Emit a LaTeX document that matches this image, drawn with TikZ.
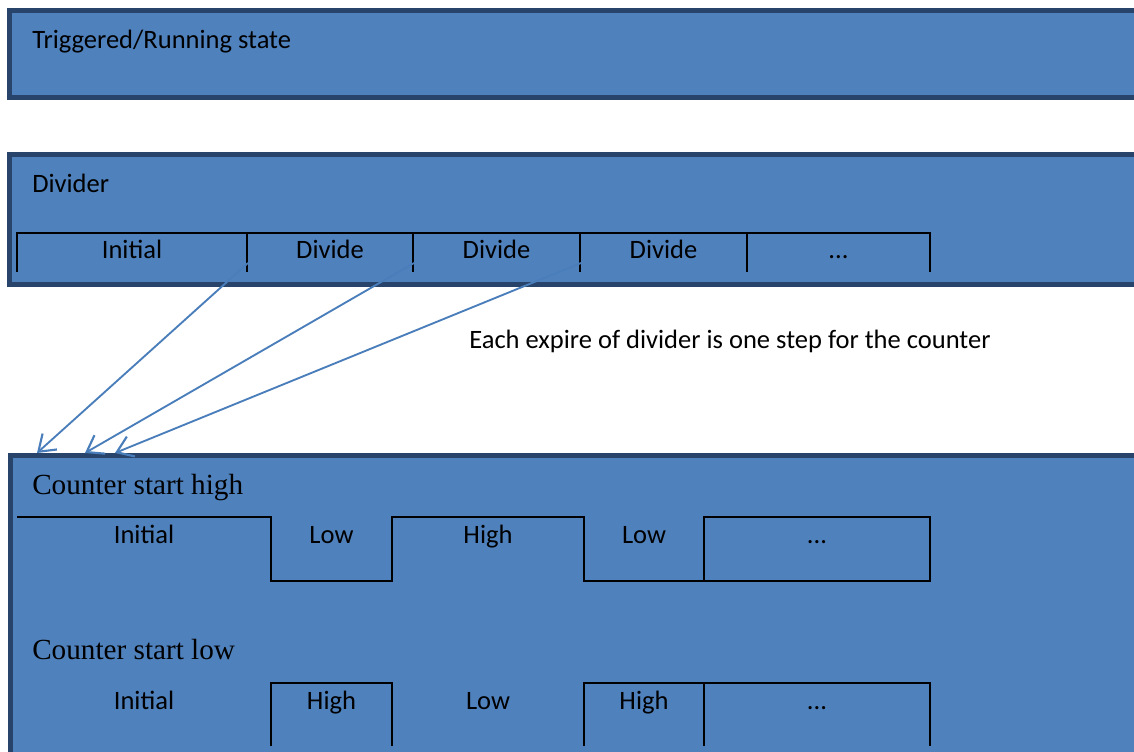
\documentclass[tikz,border=0pt]{standalone}
\usepackage{fontspec}
\setmainfont{Carlito}
\newfontfamily\headfont{Liberation Serif}
\usetikzlibrary{arrows.meta}
\definecolor{panelfill}{RGB}{79,129,189}
\definecolor{paneledge}{RGB}{40,68,106}
\definecolor{arrowblue}{RGB}{74,126,187}
\newcommand{\moredots}{...}
\begin{document}
\begin{tikzpicture}[x=0.75pt, y=-0.75pt,
    panel/.style={fill=panelfill, draw=paneledge, line width=3.75pt},
    wave/.style={draw=black, line width=1.5pt},
    lbl/.style={anchor=base, inner sep=0pt, font=\fontsize{19.9}{24}\selectfont},
    title/.style={anchor=base west, inner sep=0pt, font=\fontsize{19.9}{24}\selectfont},
    head/.style={anchor=base west, inner sep=0pt, font=\headfont\fontsize{21.9}{26}\selectfont},
    arr/.style={draw=arrowblue, line width=1.4pt, -{Straight Barb[angle=70:14pt, line width=1.6pt]}}]
    \useasboundingbox (0,0) rectangle (1134,752);
    % panels
    \draw[panel] (9.5,10.5) rectangle (1145,97.5);
    \draw[panel] (9.5,154.5) rectangle (1145,284.5);
    \draw[panel] (10,455) rectangle (1145,770);
    \node[title] (run) at (32,49) {Triggered/Running state};
    \node[title] (div) at (32,193) {Divider};
    % divider steps
    \draw[wave] (17,272) -- (17,233) -- (930,233) -- (930,272);
    \foreach \a/\b/\t [count=\i] in {17/247/Initial, 247/413/Divide, 413/580/Divide, 580/747/Divide, 747/930/\moredots} {
        \draw[wave] (\b,233) -- (\b,272);
        \node[lbl] (d\i) at ({(\a+\b)/2},258) {\t};
    }
    \node[title] (note) at (469,348) {Each expire of divider is one step for the counter};
    % counter start high
    \node[head] (hi) at (32,494) {Counter start high};
    \draw[wave] (17,517) -- (271,517) -- (271,581) -- (392,581) -- (392,517) -- (584,517) -- (584,581) -- (704,581);
    \draw[wave] (704,517) rectangle (930,581);
    \foreach \a/\b/\t [count=\i] in {17/271/Initial, 271/392/Low, 392/584/High, 584/704/Low, 704/930/\moredots}
        \node[lbl] (h\i) at ({(\a+\b)/2},543) {\t};
    % counter start low
    \node[head] (lo) at (32,659) {Counter start low};
    \draw[wave] (271,746) -- (271,683) -- (392,683) -- (392,746);
    \draw[wave] (584,746) -- (584,683) -- (930,683) -- (930,746);
    \draw[wave] (704,683) -- (704,746);
    \foreach \a/\b/\t [count=\i] in {17/271/Initial, 271/392/High, 392/584/Low, 584/704/High, 704/930/\moredots}
        \node[lbl] (l\i) at ({(\a+\b)/2},709) {\t};
    % steps into the counter
    \coordinate (s1) at (248,263);
    \coordinate (s2) at (414,263);
    \coordinate (s3) at (581,263);
    \coordinate (t1) at (37,453);
    \coordinate (t2) at (85,453);
    \coordinate (t3) at (115,453);
    \draw[arr] (s1) -- (t1);
    \draw[arr] (s2) -- (t2);
    \draw[arr] (s3) -- (t3);
\end{tikzpicture}
\end{document}
